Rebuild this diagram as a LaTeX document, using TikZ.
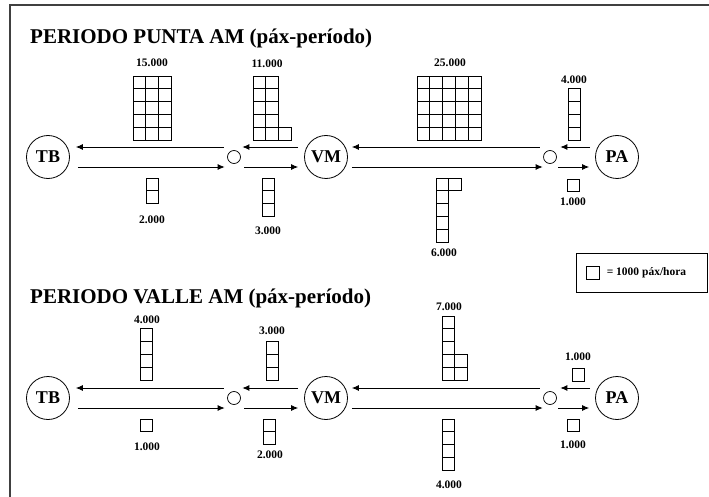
\documentclass[tikz,border=0pt]{standalone}
\usepackage{fontspec}
\setmainfont{Liberation Serif}
\usetikzlibrary{arrows.meta}
\tikzset{
  station/.style={circle,draw,line width=0.8pt,minimum size=43pt,inner sep=0pt,font=\bfseries\fontsize{18}{20}\selectfont},
  junction/.style={circle,draw,line width=0.7pt,minimum size=13pt,inner sep=0pt},
  flow/.style={line width=0.8pt,-{Latex[length=7pt,width=6pt]}},
  cellbox/.style={draw,line width=0.7pt},
  num/.style={font=\bfseries\fontsize{11.5}{13}\selectfont,inner sep=0pt},
  ttl/.style={font=\bfseries\fontsize{21}{24}\selectfont,inner sep=0pt,anchor=base west},
  frame/.style={line width=2pt,draw=black!75}
}
% grid above: x0, bottom, list of col/row (row 0 = bottom row)
\newcommand{\gridup}[3]{\foreach \c/\r in {#3} {\draw[cellbox] ({#1+12.8*\c},{#2-12.8*(\r+1)}) rectangle ++(12.8,12.8);}}
% grid below: x0, top, list of col/row (row 0 = top row)
\newcommand{\griddown}[3]{\foreach \c/\r in {#3} {\draw[cellbox] ({#1+12.8*\c},{#2+12.8*\r}) rectangle ++(12.8,12.8);}}
\newcommand{\panel}[2]{%
  \node[station] (#2TB) at (48,#1) {TB};
  \node[station] (#2VM) at (326,#1) {VM};
  \node[station] (#2PA) at (617,#1) {PA};
  \node[junction] (#2ja) at (234,#1) {};
  \node[junction] (#2jb) at (550,#1) {};
  \draw[flow] ([xshift=-3.5pt,yshift=10pt]#2ja.west) -- ([xshift=6pt,yshift=10pt]#2TB.east);
  \draw[flow] ([xshift=8pt,yshift=-10pt]#2TB.east) -- ([xshift=-2.5pt,yshift=-10pt]#2ja.west);
  \draw[flow] ([xshift=-6pt,yshift=10pt]#2VM.west) -- ([xshift=1.5pt,yshift=10pt]#2ja.east);
  \draw[flow] ([xshift=3.5pt,yshift=-10pt]#2ja.east) -- ([xshift=-6pt,yshift=-10pt]#2VM.west);
  \draw[flow] ([xshift=-3.5pt,yshift=10pt]#2jb.west) -- ([xshift=4pt,yshift=10pt]#2VM.east);
  \draw[flow] ([xshift=4pt,yshift=-10pt]#2VM.east) -- ([xshift=-0.5pt,yshift=-10pt]#2jb.west);
  \draw[flow] ([xshift=-5pt,yshift=10pt]#2PA.west) -- ([xshift=3.5pt,yshift=10pt]#2jb.east);
  \draw[flow] ([xshift=1.5pt,yshift=-10pt]#2jb.east) -- ([xshift=-6pt,yshift=-10pt]#2PA.west);
}
\begin{document}
\begin{tikzpicture}[x=1pt,y=-1pt]
\useasboundingbox (0,0) rectangle (709,497);
\draw[frame] (10,497) -- (10,5) -- (709,5);

% ---------- PERIODO PUNTA AM ----------
\node[ttl] (t1) at (30,44) {PERIODO PUNTA AM (páx-período)};
\panel{157}{a}
\gridup{133}{140}{0/0,0/1,0/2,0/3,0/4,1/0,1/1,1/2,1/3,1/4,2/0,2/1,2/2,2/3,2/4}
\node[num] (a15) at (152,63) {15.000};
\gridup{253}{140}{0/0,0/1,0/2,0/3,0/4,1/0,1/1,1/2,1/3,1/4,2/0}
\node[num] (a11) at (267,64) {11.000};
\gridup{417}{140}{0/0,0/1,0/2,0/3,0/4,1/0,1/1,1/2,1/3,1/4,2/0,2/1,2/2,2/3,2/4,3/0,3/1,3/2,3/3,3/4,4/0,4/1,4/2,4/3,4/4}
\node[num] (a25) at (450,63) {25.000};
\gridup{568}{140}{0/0,0/1,0/2,0/3}
\node[num] (a4) at (574,80) {4.000};
\griddown{146}{178}{0/0,0/1}
\node[num] (a2) at (152,220) {2.000};
\griddown{262}{178}{0/0,0/1,0/2}
\node[num] (a3) at (268,231) {3.000};
\griddown{436}{178}{0/0,0/1,0/2,0/3,0/4,1/0}
\node[num] (a6) at (444,253) {6.000};
\griddown{567}{179}{0/0}
\node[num] (a1) at (573,202) {1.000};

% ---------- legend ----------
\node[draw,line width=0.8pt,minimum width=131pt,minimum height=39pt,inner sep=0pt] (leg) at (641.5,272.5) {};
\draw[cellbox] ([xshift=11pt,yshift=6.4pt]leg.west) rectangle ++(12.8,12.8);
\node[num,anchor=west] (legt) at ([xshift=31pt]leg.west) {= 1000 páx/hora};

% ---------- PERIODO VALLE AM ----------
\node[ttl] (t2) at (30,303) {PERIODO VALLE AM (páx-período)};
\panel{398}{b}
\gridup{140}{380}{0/0,0/1,0/2,0/3}
\node[num] (b4a) at (147,320) {4.000};
\gridup{266}{380}{0/0,0/1,0/2}
\node[num] (b3) at (272,331) {3.000};
\gridup{442}{380}{0/0,0/1,0/2,0/3,0/4,1/0,1/1}
\node[num] (b7) at (449,307) {7.000};
\gridup{572}{381}{0/0}
\node[num] (b1a) at (578,357) {1.000};
\griddown{140}{419}{0/0}
\node[num] (b1b) at (147,447) {1.000};
\griddown{263}{419}{0/0,0/1}
\node[num] (b2) at (270,455) {2.000};
\griddown{442}{419}{0/0,0/1,0/2,0/3}
\node[num] (b4b) at (449,485) {4.000};
\griddown{567}{419}{0/0}
\node[num] (b1c) at (573,445) {1.000};
\end{tikzpicture}
\end{document}
